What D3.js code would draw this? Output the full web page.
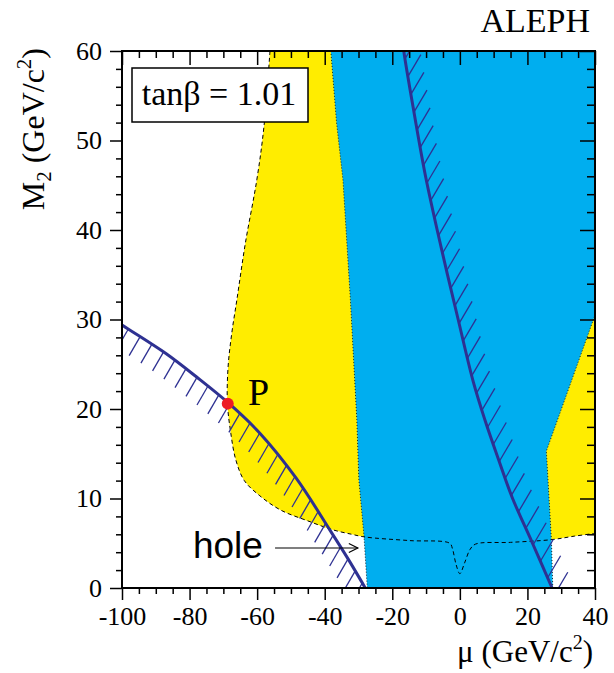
<!DOCTYPE html>
<html>
<head>
<meta charset="utf-8">
<script src="https://cdn.jsdelivr.net/npm/d3@7"></script>
<style>
  body { margin: 0; background: white; }
  text { font-family: "Liberation Serif", "Times New Roman", serif; fill: black; }
</style>
</head>
<body>
<svg id="chart"></svg>
<script>
var svg_width = 614
var svg_height = 673

// mu (GeV/c2), M2 (GeV/c2)
var xMajor = [-100, -80, -60, -40, -20, 0, 20, 40];
var yMajor = [0, 10, 20, 30, 40, 50, 60];

// yellow region, dashed boundary (left edge then bottom edge with the dip at mu=0)
var yellowEdge = [[-56.2, 60], [-58, 51.5], [-60.1, 45.6], [-63.5, 38.5], [-66, 32.2], [-67.5, 28.5],
                  [-68.6, 24.7], [-68.8, 20.7], [-67.8, 17.3], [-66.3, 14.3], [-63.8, 12.0],
                  [-59.2, 10.3], [-53, 8.7], [-45, 7.5], [-37.6, 6.5], [-32, 6.0], [-28.1, 5.7],
                  [-15, 5.3], [-3, 5.0], [-2.2, 4.4], [-1.1, 2.6], [0, 1.6], [1.4, 2.8],
                  [3, 4.3], [4.6, 4.9], [15, 5.1], [27.1, 5.4], [34, 5.8], [40, 6.1]];

// blue region boundaries
var blueLeft = [[-38.2, 60], [-36.5, 52], [-34.6, 45.6], [-32.4, 32.2], [-30.5, 18.8],
                [-29.9, 12.1], [-28.4, 5.9], [-27.4, 0]];
var blueRight = [[27.5, 0], [27.1, 5.4], [25.6, 15.3], [40, 30.5]];

// excluded contours (hatched side)
var curveLeft = [[-103, 30.2], [-100, 29.4], [-87, 26.2], [-78, 23.6], [-68.6, 20.7], [-59.2, 17.3],
                 [-48.5, 12.3], [-38.5, 6.5], [-33, 3.2], [-28, 0], [-26.5, -1]];
var curveRight = [[-17.2, 62], [-16.6, 60], [-13.5, 53], [-10.1, 45.9], [-5.5, 38], [-0.5, 30],
                  [4, 23], [7.4, 18.8], [11.5, 14.3], [15.4, 10.2], [21.5, 5], [27.3, 0], [29, -1.5]];

var pointP = [-68.7, 20.6];

var x = d3.scaleLinear().domain([-100, 40]).range([122, 595]);
var y = d3.scaleLinear().domain([0, 60]).range([588, 51]);

var svg = d3.select("#chart")
.attr("width", svg_width)
.attr("height", svg_height);

svg.append("clipPath")
.attr("id", "plotclip")
.append("rect")
.attr("x", x(-100))
.attr("y", y(60))
.attr("width", x(40) - x(-100))
.attr("height", y(0) - y(60));

var plot = svg.append("g").attr("clip-path", "url(#plotclip)");

var smooth = d3.line()
.x(function(d) { return x(d[0]); })
.y(function(d) { return y(d[1]); })
.curve(d3.curveCatmullRom);

var straight = d3.line()
.x(function(d) { return x(d[0]); })
.y(function(d) { return y(d[1]); });

// yellow fill
plot.append("path")
.attr("d", smooth(yellowEdge) + "L" + x(40) + "," + y(60) + "Z")
.attr("fill", "#ffed00");

// blue fill
var bluePoly = blueLeft.concat(blueRight).concat([[40, 60]]);
plot.append("path")
.attr("d", straight(bluePoly) + "Z")
.attr("fill", "#00aeef");

plot.append("path")
.attr("d", straight(blueLeft))
.attr("fill", "none")
.attr("stroke", "black")
.attr("stroke-width", 0.8)
.attr("stroke-dasharray", "1,2");

plot.append("path")
.attr("d", straight(blueRight))
.attr("fill", "none")
.attr("stroke", "black")
.attr("stroke-width", 0.8)
.attr("stroke-dasharray", "1,2");

// dashed yellow boundary
plot.append("path")
.attr("d", smooth(yellowEdge))
.attr("fill", "none")
.attr("stroke", "black")
.attr("stroke-width", 1)
.attr("stroke-dasharray", "4,3");

// contours with hatching
function drawContour(pts, dir, step, offset) {
  var path = plot.append("path")
  .attr("d", smooth(pts))
  .attr("fill", "none")
  .attr("stroke", "#2e3192")
  .attr("stroke-width", 3);
  var node = path.node();
  var total = node.getTotalLength();
  var hatches = [];
  for (var s = offset; s < total; s += step) {
    var p = node.getPointAtLength(s);
    hatches.push({ x1: p.x, y1: p.y, x2: p.x + dir[0], y2: p.y + dir[1] });
  }
  plot.selectAll(null)
  .data(hatches)
  .enter()
  .append("line")
  .attr("x1", function(d) { return d.x1; })
  .attr("y1", function(d) { return d.y1; })
  .attr("x2", function(d) { return d.x2; })
  .attr("y2", function(d) { return d.y2; })
  .attr("stroke", "#2e3192")
  .attr("stroke-width", 1.3);
}

drawContour(curveLeft, [-11, 19], 14, 6);
drawContour(curveRight, [13, -22], 18, 8);

// point P
plot.append("circle")
.attr("cx", x(pointP[0]))
.attr("cy", y(pointP[1]))
.attr("r", 6)
.attr("fill", "#ed1c24");

svg.append("text")
.attr("x", x(-62.7))
.attr("y", y(20.4))
.style("font-size", "38px")
.text("P");

// hole annotation
svg.append("text")
.attr("x", x(-58.3))
.attr("y", y(3.3))
.attr("text-anchor", "end")
.style("font-family", "'Liberation Sans', Arial, sans-serif")
.style("font-size", "37px")
.text("hole");

var ax1 = x(-54.7), ax2 = x(-30.2), ay = y(4.47);
svg.append("line")
.attr("x1", ax1).attr("y1", ay)
.attr("x2", ax2).attr("y2", ay)
.attr("stroke", "black")
.attr("stroke-width", 1.2);
svg.append("path")
.attr("d", "M" + (ax2 - 9) + "," + (ay - 4.5) + "L" + ax2 + "," + ay + "L" + (ax2 - 9) + "," + (ay + 4.5))
.attr("fill", "none")
.attr("stroke", "black")
.attr("stroke-width", 1.2);

// tan beta box
svg.append("rect")
.attr("x", 132)
.attr("y", 68)
.attr("width", 176)
.attr("height", 54)
.attr("fill", "white")
.attr("stroke", "black")
.attr("stroke-width", 1.5);

svg.append("text")
.attr("x", 219)
.attr("y", 105)
.attr("text-anchor", "middle")
.style("font-size", "34px")
.text("tan\u03b2 = 1.01");

// axes
function minors(lo, hi, st, majors) {
  return d3.range(lo, hi + 0.001, st).filter(function(v) { return majors.indexOf(v) < 0; });
}
var xMinor = minors(-100, 40, 5, xMajor);
var yMinor = minors(0, 60, 2, yMajor);

var axes = svg.append("g");

axes.append("g")
.attr("transform", "translate(0," + y(0) + ")")
.call(d3.axisBottom(x).tickValues(xMajor).tickSize(12).tickPadding(7)
  .tickFormat(function(d) { return String(d); }));
axes.append("g")
.attr("transform", "translate(0," + y(0) + ")")
.call(d3.axisBottom(x).tickValues(xMinor).tickSize(6).tickFormat(""));

axes.append("g")
.attr("transform", "translate(" + x(-100) + ",0)")
.call(d3.axisLeft(y).tickValues(yMajor).tickSize(12).tickPadding(8)
  .tickFormat(function(d) { return String(d); }));
axes.append("g")
.attr("transform", "translate(" + x(-100) + ",0)")
.call(d3.axisLeft(y).tickValues(yMinor).tickSize(6).tickFormat(""));

axes.append("g")
.attr("transform", "translate(0," + y(60) + ")")
.call(d3.axisTop(x).tickValues(xMajor).tickSize(-14).tickFormat(""));
axes.append("g")
.attr("transform", "translate(0," + y(60) + ")")
.call(d3.axisTop(x).tickValues(xMinor).tickSize(-7).tickFormat(""));

axes.append("g")
.attr("transform", "translate(" + x(40) + ",0)")
.call(d3.axisRight(y).tickValues(yMajor).tickSize(-15).tickFormat(""));
axes.append("g")
.attr("transform", "translate(" + x(40) + ",0)")
.call(d3.axisRight(y).tickValues(yMinor).tickSize(-8).tickFormat(""));

axes.selectAll(".domain").remove();
axes.selectAll(".tick line").attr("stroke", "black").attr("stroke-width", 1.5);
axes.selectAll(".tick text")
.style("font-family", "'Liberation Serif', 'Times New Roman', serif")
.style("font-size", "26px")
.attr("fill", "black");

svg.append("rect")
.attr("x", x(-100))
.attr("y", y(60))
.attr("width", x(40) - x(-100))
.attr("height", y(0) - y(60))
.attr("fill", "none")
.attr("stroke", "black")
.attr("stroke-width", 2);

// titles
svg.append("text")
.attr("x", 590)
.attr("y", 32)
.attr("text-anchor", "end")
.style("font-size", "34px")
.text("ALEPH");

var xt = svg.append("text")
.attr("x", 593)
.attr("y", 662)
.attr("text-anchor", "end")
.style("font-size", "31px");
xt.append("tspan").text("\u03bc (GeV/c");
xt.append("tspan").attr("dy", -13).style("font-size", "20px").text("2");
xt.append("tspan").attr("dy", 13).text(")");

var yt = svg.append("text")
.attr("transform", "translate(44,48) rotate(-90)")
.attr("text-anchor", "end")
.style("font-size", "32px");
yt.append("tspan").text("M");
yt.append("tspan").attr("dy", 7).style("font-size", "21px").text("2");
yt.append("tspan").attr("dy", -7).text(" (GeV/c");
yt.append("tspan").attr("dy", -13).style("font-size", "21px").text("2");
yt.append("tspan").attr("dy", 13).text(")");
</script>
</body>
</html>
